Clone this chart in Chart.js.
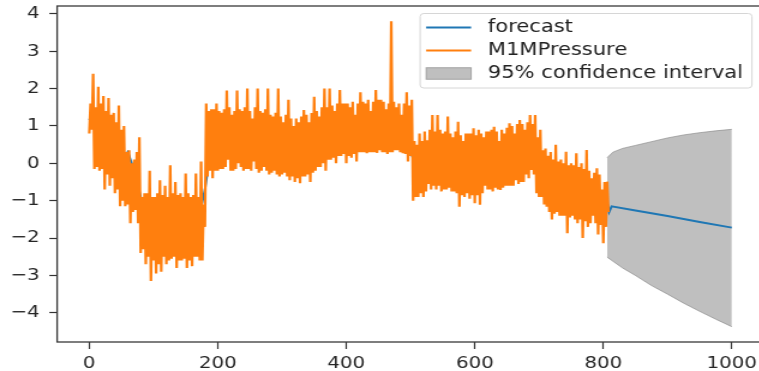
<!DOCTYPE html>
<html>
<head>
<meta charset="utf-8">
<title>M1MPressure forecast</title>
<script src="https://cdn.jsdelivr.net/npm/chart.js@4.4.1/dist/chart.umd.min.js"></script>
<style>
  html, body { margin: 0; padding: 0; background: #fff; overflow: hidden; }
  #chart { display: block; }
</style>
</head>
<body>
<!-- the original picture is a horizontally stretched matplotlib figure, hence 640 -> 768 -->
<canvas id="chart" width="640" height="371" style="width:768px;height:371px"></canvas>
<script>
// observed series, one value every 2 samples (x = 0, 2, 4 ... 808)
const pressureStep = 2;
const pressureValues = [
  0.8, 1.6, 0.9, 2.4, -0.15, 1.5, -0.1, 2.05, -0.2, 1.6, -0.15, 1.8, -0.7, 1.4, -0.3, 1.75, -0.6, 1.3, -0.4, 1.35,          // 0-38
  -0.8, 1.1, -0.7, 1.55, -1.15, 0.9, -1.0, 1.0, -1.15, 0.3, -1.1, 0.35, -1.6, 0.0, -1.3, 0.1, -1.25, 0.3, -1.6, 0.7,        // 40-78
  -2.4, -0.9, -2.3, -0.8, -2.7, -0.8, -2.5, -0.2, -3.15, -0.9, -2.6, -0.9, -2.95, -0.8, -2.7, -0.45, -2.9, -0.85, -2.5, -0.6, // 80-118
  -2.7, -0.9, -2.6, -0.05, -2.55, -0.8, -2.5, -0.5, -2.8, -0.85, -2.6, -0.8, -2.6, -0.9, -2.55, -0.27, -2.8, -0.8, -2.6, -0.9, // 120-158
  -2.75, -0.85, -2.5, -0.27, -2.5, -0.9, -2.6, 0.05, -2.6, -1.1, -1.7, 1.6, -0.35, 1.4, -0.2, 1.45, -0.4, 1.45, -0.2, 1.6,  // 160-198
  -0.2, 1.4, -0.15, 1.35, -0.15, 1.45, -0.1, 1.95, 0.1, 1.5, -0.2, 1.3, -0.2, 1.4, -0.15, 1.95, 0.0, 1.45, -0.1, 1.4,        // 200-238
  -0.2, 1.5, -0.15, 2.0, -0.15, 1.4, -0.2, 1.2, 0.05, 1.5, -0.15, 2.0, -0.25, 1.4, -0.2, 1.35, -0.1, 1.45, -0.2, 2.0,       // 240-278
  -0.3, 1.3, -0.25, 1.25, -0.2, 1.35, -0.3, 2.0, -0.35, 1.25, -0.3, 1.1, -0.25, 1.3, -0.35, 1.7, -0.45, 1.2, -0.35, 1.0,    // 280-318
  -0.5, 1.2, -0.4, 1.1, -0.53, 1.25, -0.35, 1.43, -0.35, 1.3, -0.3, 1.1, -0.5, 1.35, -0.25, 1.78, -0.2, 1.4, -0.1, 1.25,    // 320-358
  -0.1, 1.5, 0.0, 2.0, -0.2, 1.5, 0.1, 2.0, 0.1, 1.55, 0.15, 1.4, 0.0, 1.6, 0.2, 1.96, 0.2, 1.6, 0.25, 1.6,                 // 360-398
  0.0, 1.6, 0.2, 1.5, 0.15, 1.65, 0.25, 1.3, 0.05, 1.6, 0.3, 1.9, 0.3, 1.65, 0.3, 1.6, 0.27, 1.7, 0.3, 1.4,                  // 400-438
  0.3, 1.65, 0.3, 1.96, 0.28, 1.7, 0.35, 1.7, 0.3, 1.65, 0.3, 1.45, 0.25, 1.6, 0.3, 3.8, 0.3, 1.65, 0.35, 1.5,               // 440-478
  0.35, 1.6, 0.3, 1.3, 0.27, 1.6, 0.25, 1.9, 0.05, 1.55, 0.2, 1.7, -1.0, 0.6, -0.9, 0.5, -0.9, 0.8, -0.8, 0.6,              // 480-518
  -0.9, 0.85, -0.75, 0.62, -0.55, 0.9, -0.7, 1.29, -0.6, 0.85, -0.7, 1.29, -0.6, 0.9, -0.75, 0.8, -0.7, 0.85, -0.7, 1.25,   // 520-558
  -0.65, 0.8, -0.75, 0.7, -0.75, 0.85, -0.8, 1.11, -1.16, 0.75, -0.85, 0.6, -0.9, 0.8, -0.8, 0.8, -0.95, 0.8, -0.85, 0.94,  // 560-598
  -1.07, 0.75, -0.85, 0.9, -1.11, 0.8, -0.8, 0.7, -0.6, 0.85, -0.7, 0.85, -0.7, 0.9, -0.75, 0.98, -0.65, 0.85, -0.7, 0.6,   // 600-638
  -0.71, 0.9, -0.65, 0.8, -0.6, 0.95, -0.6, 1.07, -0.6, 1.0, -0.6, 0.8, -0.45, 1.05, -0.55, 1.16, -0.5, 1.05, -0.5, 0.9,    // 640-678
  -0.3, 1.1, -0.4, 1.29, -0.18, 1.05, -0.3, 1.29, -0.8, 0.7, -0.9, 0.9, -0.9, 0.35, -1.1, 0.4, -1.16, 0.2, -1.3, 0.3,       // 680-718
  -1.5, 0.1, -1.35, 0.5, -1.3, 0.05, -1.4, 0.1, -1.4, 0.0, -1.4, 0.31, -1.87, -0.05, -1.45, 0.0, -1.4, -0.05, -1.5, 0.27,   // 720-758
  -1.6, -0.1, -1.5, 0.0, -2.0, -0.15, -1.55, 0.36, -1.7, -0.2, -1.6, -0.4, -1.4, -0.25, -1.6, -0.13, -1.9, -0.3, -1.65, -0.7, // 760-798
  -2.14, -0.5, -1.7, -0.49, -1.3                                                                                             // 800-808
];

// in-sample fit, one value every 10 samples (x = 0 ... 800)
const fitStep = 10;
const fitValues = [
  1.2, 0.9, 0.75, 0.6, 0.35, 0.1, 0.3, -0.2, -0.9, -1.3,
  -1.7, -1.6, -1.5, -1.6, -1.55, -1.6, -1.45, -1.5, -0.7, 0.5,
  0.6, 0.65, 0.6, 0.7, 0.65, 0.6, 0.7, 0.55, 0.5, 0.55,
  0.45, 0.4, 0.35, 0.4, 0.45, 0.55, 0.7, 0.8, 0.75, 0.85,
  0.8, 0.85, 0.9, 0.85, 0.95, 0.9, 0.85, 1.0, 0.85, 0.9,
  0.3, -0.1, 0.1, 0.2, 0.15, 0.25, 0.2, 0.1, 0.0, 0.05,
  0.0, 0.1, 0.15, 0.1, 0.2, 0.25, 0.3, 0.35, 0.4, 0.4,
  -0.2, -0.4, -0.5, -0.6, -0.7, -0.6, -0.75, -0.8, -0.9, -1.0,
  -1.0
];

// out-of-sample forecast
const forecastX = [806, 809, 813, 850, 900, 950, 1000];
const forecastY = [-1.05, -1.3, -1.15, -1.26, -1.41, -1.57, -1.72];

// 95% confidence interval
const ciX = [806, 815, 830, 850, 875, 900, 925, 950, 975, 1000];
const ciUpper = [0.15, 0.3, 0.4, 0.48, 0.58, 0.68, 0.76, 0.82, 0.87, 0.91];
const ciLower = [-2.51, -2.62, -2.8, -3.0, -3.27, -3.5, -3.74, -3.96, -4.17, -4.37];

const xTicks = [0, 200, 400, 600, 800, 1000];
const yTicks = [-4, -3, -2, -1, 0, 1, 2, 3, 4];

const pressurePoints = pressureValues.map((v, i) => ({ x: i * pressureStep, y: v }));
const forecastPoints = fitValues.map((v, i) => ({ x: i * fitStep, y: v }))
  .concat(forecastX.map((x, i) => ({ x: x, y: forecastY[i] })));
const upperPoints = ciX.map((x, i) => ({ x: x, y: ciUpper[i] }));
const lowerPoints = ciX.map((x, i) => ({ x: x, y: ciLower[i] }));

const FONT = "'DejaVu Sans', 'Liberation Sans', sans-serif";

// matplotlib draws a full box round the axes
const axesFrame = {
  id: "axesFrame",
  afterDatasetsDraw(chart) {
    const { ctx, chartArea: a } = chart;
    ctx.save();
    ctx.strokeStyle = "#3a3a3a";
    ctx.lineWidth = 1.3;
    ctx.strokeRect(a.left, a.top, a.right - a.left, a.bottom - a.top);
    ctx.restore();
  }
};

// legend box in the upper right corner, inside the axes
const insideLegend = {
  id: "insideLegend",
  afterDraw(chart) {
    const { ctx, chartArea: a } = chart;
    const items = chart.data.datasets.filter(d => d.label);
    const boxW = 276.5, boxH = 74.5;
    const left = a.right - 10 - boxW;
    const top = a.top + 7.5;
    ctx.save();
    ctx.fillStyle = "rgba(255,255,255,0.85)";
    ctx.strokeStyle = "#d6d6d6";
    ctx.lineWidth = 1;
    ctx.beginPath();
    ctx.roundRect(left, top, boxW, boxH, 3);
    ctx.fill();
    ctx.stroke();
    ctx.font = "17.5px " + FONT;
    ctx.textBaseline = "middle";
    items.forEach((d, i) => {
      const y = top + 14 + i * 23;
      const hx = left + 5;
      if (d.fill) {
        ctx.fillStyle = d.backgroundColor;
        ctx.fillRect(hx, y - 5.8, 37.5, 11.6);
        ctx.strokeStyle = d.borderColor;
        ctx.lineWidth = 1;
        ctx.strokeRect(hx, y - 5.8, 37.5, 11.6);
      } else {
        ctx.strokeStyle = d.borderColor;
        ctx.lineWidth = 2;
        ctx.beginPath();
        ctx.moveTo(hx, y);
        ctx.lineTo(hx + 37.5, y);
        ctx.stroke();
      }
      ctx.fillStyle = "#222";
      ctx.fillText(d.label, left + 56.5, y);
    });
    ctx.restore();
  }
};

const minusLabel = v => (v < 0 ? "\u2212" + Math.abs(v) : String(v));

new Chart(document.getElementById("chart"), {
  type: "line",
  data: {
    datasets: [
      {
        label: "forecast",
        data: forecastPoints,
        borderColor: "#1f77b4",
        borderWidth: 2,
        pointRadius: 0,
        fill: false,
        order: 1
      },
      {
        label: "M1MPressure",
        data: pressurePoints,
        borderColor: "#ff7f0e",
        borderWidth: 2.2,
        pointRadius: 0,
        fill: false,
        order: 0
      },
      {
        label: "95% confidence interval",
        data: upperPoints,
        borderColor: "rgba(128,128,128,0.6)",
        backgroundColor: "rgba(128,128,128,0.5)",
        borderWidth: 1,
        pointRadius: 0,
        fill: "+1",
        order: 2
      },
      {
        label: "",
        data: lowerPoints,
        borderColor: "rgba(128,128,128,0.6)",
        borderWidth: 1,
        pointRadius: 0,
        fill: false,
        order: 2
      }
    ]
  },
  options: {
    responsive: false,
    animation: false,
    devicePixelRatio: 1,
    layout: { padding: { left: 0, right: 3.4, top: 6, bottom: 0 } },
    plugins: {
      legend: { display: false },
      tooltip: { enabled: false }
    },
    scales: {
      x: {
        type: "linear",
        min: -50,
        max: 1050,
        afterBuildTicks: s => { s.ticks = xTicks.map(v => ({ value: v })); },
        afterFit: s => { s.height = 29; s.paddingLeft = 0; s.paddingRight = 0; },
        border: { display: false },
        grid: { drawOnChartArea: false, drawTicks: true, tickLength: 7, tickWidth: 1.2, tickColor: "#333" },
        ticks: { font: { family: FONT, size: 16.5 }, color: "#262626", padding: 5, maxRotation: 0, callback: v => String(v) }
      },
      y: {
        min: -4.78,
        max: 4.21,
        afterBuildTicks: s => { s.ticks = yTicks.map(v => ({ value: v })); },
        afterFit: s => { s.width = 47.6; s.paddingTop = 0; s.paddingBottom = 0; },
        border: { display: false },
        grid: { drawOnChartArea: false, drawTicks: true, tickLength: 6.5, tickWidth: 1.2, tickColor: "#333" },
        ticks: { font: { family: FONT, size: 16.5 }, color: "#262626", padding: 8, callback: minusLabel }
      }
    }
  },
  plugins: [axesFrame, insideLegend]
});
</script>
</body>
</html>
